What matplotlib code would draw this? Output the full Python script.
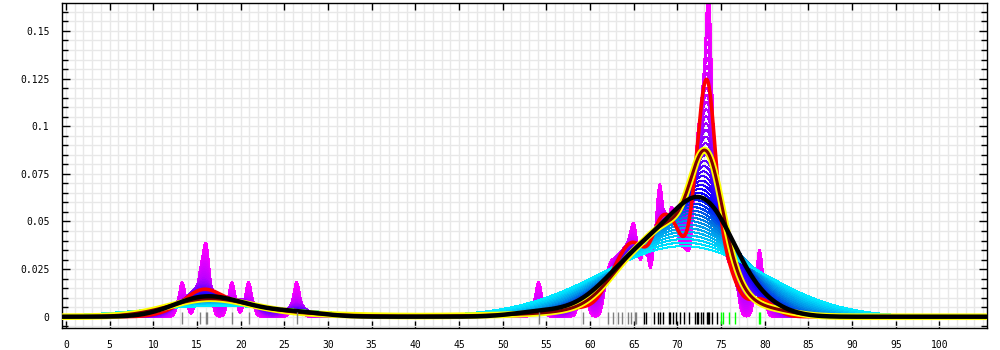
import numpy as np
import matplotlib
matplotlib.use("Agg")
import matplotlib.pyplot as plt
from matplotlib.colors import LinearSegmentedColormap
from matplotlib.ticker import MultipleLocator, FixedLocator

# sample positions read off the rug, grouped by the rug colour
# (repeated values = several samples under one tick)
grey_pts = [13.3, 15.3, 16.0, 16.15, 19.0, 20.9, 26.4, 54.1, 59.2,
            62.0, 62.6, 63.2, 63.7, 64.3, 64.7, 65.1, 65.3]
black_pts = [66.2, 66.4, 67.3, 67.8, 68.0, 68.0, 68.35, 69.0, 69.2, 69.5, 69.8,
             70.3, 70.8, 71.3, 72.0, 72.2, 72.2, 72.4, 72.7, 72.7, 72.9,
             73.4, 73.4, 73.4, 73.5, 73.5, 73.65, 73.65, 73.65, 73.95, 73.95, 74.5]
green_pts = [75.0, 75.2, 75.9, 76.55, 79.3, 79.5]

# bandwidths
fixed_bw = 3.1            # fixed kernel (black curve, also the pilot)
sweep_bw = (0.4, 8.0)     # fixed-kernel sweep, magenta -> cyan
n_sweep = 45
red_bw = 1.05             # adaptive kernels
yellow_bw = 2.2

x_ticks = list(range(0, 105, 5))
y_ticks = [0, 0.025, 0.05, 0.075, 0.1, 0.125, 0.15]
y_labels = ["0", "0.025", "0.05", "0.075", "0.1", "0.125", "0.15"]

pts = np.array(grey_pts + black_pts + green_pts)
w = np.ones(len(pts)) / len(pts)
xs = np.linspace(-0.3, 105.2, 3000)


def kde(x, bws):
    bws = np.broadcast_to(bws, pts.shape)
    z = (x[:, None] - pts[None, :]) / bws[None, :]
    return (w[None, :] * np.exp(-0.5 * z ** 2) / (bws[None, :] * np.sqrt(2 * np.pi))).sum(axis=1)


# Abramson local factors from the fixed-kernel pilot
pilot_at_pts = kde(pts, fixed_bw)
g = np.exp(np.sum(w * np.log(pilot_at_pts)))
lam = np.sqrt(g / pilot_at_pts)

fig = plt.figure(figsize=(10, 3.5), dpi=100)
ax = fig.add_axes([0.062, 0.063, 0.925, 0.9286])

cmap = LinearSegmentedColormap.from_list("fan", [
    (0.0, "#ff00ff"), (0.3, "#c000ff"), (0.5, "#6000ff"), (0.68, "#0000ff"),
    (0.8, "#0070e0"), (0.9, "#00b0f0"), (1.0, "#00e8ff")])
hs = np.geomspace(sweep_bw[0], sweep_bw[1], n_sweep)
for k, h in enumerate(hs):
    ax.plot(xs, kde(xs, h), color=cmap(k / (n_sweep - 1)), lw=0.75,
            antialiased=False, zorder=2)

ax.plot(xs, kde(xs, red_bw * lam), color="#ff0000", lw=2.6, zorder=3)
ax.plot(xs, kde(xs, yellow_bw * lam), color="#ffff00", lw=4.8, zorder=4)
ax.plot(xs, kde(xs, yellow_bw * lam), color="#800000", lw=2.2, zorder=5)
ax.plot(xs, kde(xs, fixed_bw), color="black", lw=3.2, zorder=6)

# rug
for vals, c in [(grey_pts, "#808080"), (black_pts, "black"), (green_pts, "#00ff00")]:
    ax.vlines(sorted(set(vals)), -0.0036, 0.0026, colors=c, lw=1.0, zorder=7)

ax.set_xlim(-0.46, 105.44)
ax.set_ylim(-0.0059, 0.1647)

ax.xaxis.set_major_locator(FixedLocator(x_ticks))
ax.xaxis.set_minor_locator(MultipleLocator(1))
ax.yaxis.set_major_locator(FixedLocator(y_ticks))
ax.yaxis.set_minor_locator(MultipleLocator(0.005))
ax.set_xticklabels([str(t) for t in x_ticks])
ax.set_yticklabels(y_labels)

ax.grid(which="both", color="#e8e8e8", lw=1.0, zorder=0)
ax.set_axisbelow(True)

for lbl in ax.get_xticklabels() + ax.get_yticklabels():
    lbl.set_family("DejaVu Sans Mono")
    lbl.set_fontsize(7)

ax.tick_params(axis="x", which="major", direction="in", length=5, width=1,
               top=True, bottom=True, pad=9)
ax.tick_params(axis="x", which="minor", length=0)
ax.tick_params(axis="y", which="major", direction="in", length=6, width=1,
               left=True, right=True, pad=9)
ax.tick_params(axis="y", which="minor", direction="in", length=4, width=1,
               left=True, right=True)
for s in ax.spines.values():
    s.set_linewidth(1.0)

fig.savefig("out.png", dpi=100)
